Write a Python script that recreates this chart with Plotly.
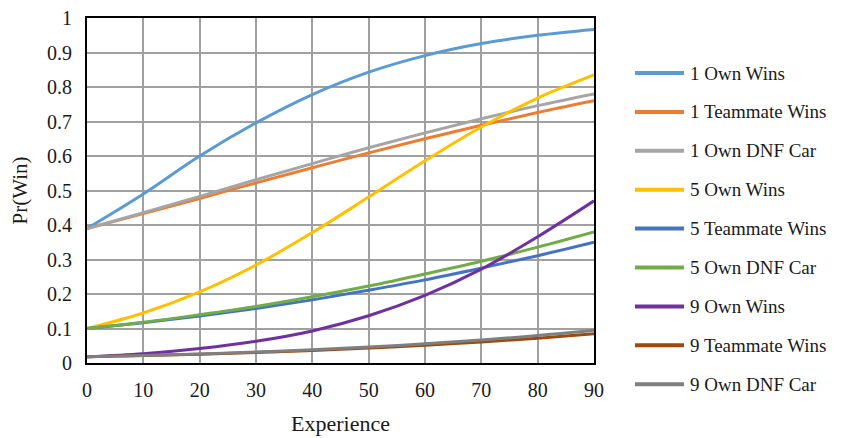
import plotly.graph_objects as go

experience = [0, 10, 20, 30, 40, 50, 60, 70, 80, 90]

own1 = [0.39, 0.49, 0.60, 0.696, 0.778, 0.843, 0.891, 0.926, 0.950, 0.967]
team1 = [0.39, 0.433, 0.477, 0.522, 0.566, 0.609, 0.650, 0.689, 0.726, 0.76]
dnf1 = [0.39, 0.436, 0.483, 0.531, 0.578, 0.624, 0.667, 0.708, 0.746, 0.78]
own5 = [0.10, 0.145, 0.206, 0.284, 0.378, 0.481, 0.586, 0.684, 0.768, 0.835]
team5 = [0.10, 0.117, 0.136, 0.158, 0.183, 0.211, 0.241, 0.275, 0.311, 0.35]
dnf5 = [0.10, 0.118, 0.140, 0.164, 0.192, 0.223, 0.258, 0.295, 0.336, 0.38]
own9 = [0.018, 0.027, 0.042, 0.063, 0.093, 0.137, 0.196, 0.272, 0.366, 0.47]
team9 = [0.018, 0.0215, 0.0256, 0.0305, 0.0364, 0.0433, 0.0513, 0.0609, 0.072, 0.085]
dnf9 = [0.018, 0.0218, 0.0263, 0.0318, 0.0383, 0.0461, 0.0555, 0.0665, 0.0796, 0.095]

series = [
    ("1 Own Wins", own1, "#5B9BD5"),
    ("1 Teammate Wins", team1, "#ED7D31"),
    ("1 Own DNF Car", dnf1, "#A5A5A5"),
    ("5 Own Wins", own5, "#FFC000"),
    ("5 Teammate Wins", team5, "#4472C4"),
    ("5 Own DNF Car", dnf5, "#70AD47"),
    ("9 Own Wins", own9, "#7030A0"),
    ("9 Teammate Wins", team9, "#9E480E"),
    ("9 Own DNF Car", dnf9, "#7F7F7F"),
]

x_ticks = [0, 10, 20, 30, 40, 50, 60, 70, 80, 90]
y_ticks = [0, 0.1, 0.2, 0.3, 0.4, 0.5, 0.6, 0.7, 0.8, 0.9, 1]
y_labels = ["0", "0.1", "0.2", "0.3", "0.4", "0.5", "0.6", "0.7", "0.8", "0.9", "1"]

font_family = "Liberation Serif"

# Plot area geometry (px) used to place the hand-built legend
PLOT_W, PLOT_H = 507, 345
LEG_LINE_X0, LEG_LINE_X1, LEG_TEXT_X = 548, 597, 601   # px from plot left
LEG_TOP, LEG_STEP = 290, 38.9                            # px above plot bottom

fig = go.Figure()
annotations = []
shapes = []
for i, (name, vals, color) in enumerate(series):
    fig.add_trace(go.Scatter(
        x=experience, y=vals, name=name, mode="lines",
        line=dict(color=color, width=3, shape="spline"),
        showlegend=False,
    ))
    yp = (LEG_TOP - i * LEG_STEP) / PLOT_H
    shapes.append(dict(
        type="line", xref="paper", yref="paper",
        x0=LEG_LINE_X0 / PLOT_W, x1=LEG_LINE_X1 / PLOT_W, y0=yp, y1=yp,
        line=dict(color=color, width=4),
    ))
    annotations.append(dict(
        text=name, xref="paper", yref="paper",
        x=LEG_TEXT_X / PLOT_W, y=yp, xanchor="left", yanchor="middle",
        showarrow=False, font=dict(family=font_family, size=19, color="#1a1a1a"),
    ))

fig.update_layout(
    width=833, height=430,
    margin=dict(l=79, r=247, t=10, b=75, autoexpand=False),
    paper_bgcolor="white", plot_bgcolor="white",
    font=dict(family=font_family, size=20, color="#1a1a1a"),
    showlegend=False,
    shapes=shapes,
    annotations=annotations,
    xaxis=dict(
        range=[0, 90], tickvals=x_ticks,
        showgrid=True, gridcolor="#A0A0A0", gridwidth=2,
        showline=True, linecolor="black", linewidth=2, mirror=True,
        zeroline=False, ticks="", ticklabelstandoff=8,
        title=dict(text="Experience", font=dict(size=22), standoff=16),
    ),
    yaxis=dict(
        range=[0, 1], tickvals=y_ticks, ticktext=y_labels,
        showgrid=True, gridcolor="#A0A0A0", gridwidth=2,
        showline=True, linecolor="black", linewidth=2, mirror=True,
        zeroline=False, ticks="", ticklabelstandoff=9,
        ticklabeloverflow="allow",
        title=dict(text="Pr(Win)", font=dict(size=21), standoff=16),
    ),
)

fig.write_html("out.html")
